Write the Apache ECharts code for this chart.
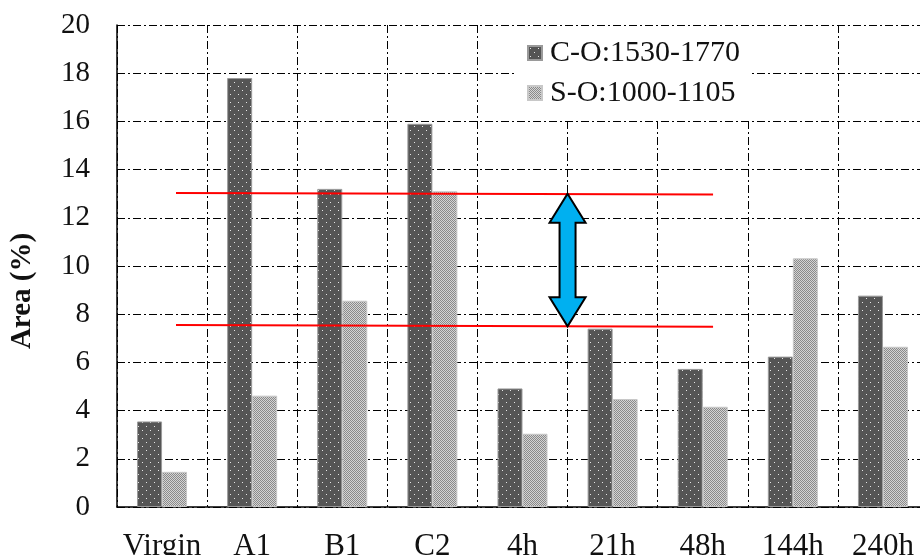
<!DOCTYPE html>
<html>
<head>
<meta charset="utf-8">
<script src="https://cdn.jsdelivr.net/npm/echarts@6/dist/echarts.min.js"></script>
<style>
  html, body { margin: 0; padding: 0; background: #fff; }
  #chart { width: 920px; height: 555px; }
</style>
</head>
<body>
<div id="chart"></div>
<script>
// values
const categories = ['Virgin', 'A1', 'B1', 'C2', '4h', '21h', '48h', '144h', '240h'];
const coValues = [3.55, 17.8, 13.2, 15.9, 4.92, 7.4, 5.73, 6.24, 8.77];
const soValues = [1.46, 4.62, 8.56, 13.1, 3.04, 4.48, 4.16, 10.32, 6.65];
const seriesNames = ['C-O:1530-1770', 'S-O:1000-1105'];

// red reference lines, [x (category index), y]
const upperLine = [[0.155, 13.03], [6.115, 12.97]];
const lowerLine = [[0.155, 7.55], [6.115, 7.48]];
// double arrow: [x, yTop, yBottom]
const arrowData = [[4.5, 13.0, 7.5]];

const fontFamily = "'Liberation Serif', 'Times New Roman', serif";
const dashDot = [8, 3, 2, 3];

function makePattern(size, base, dots) {
  const c = document.createElement('canvas');
  c.width = size;
  c.height = size;
  const ctx = c.getContext('2d');
  ctx.fillStyle = base;
  ctx.fillRect(0, 0, size, size);
  dots.forEach(d => {
    ctx.fillStyle = d[2];
    ctx.fillRect(d[0], d[1], 1, 1);
  });
  return { image: c, repeat: 'repeat' };
}

const darkFill = makePattern(8, '#555555', [[2, 2, '#e6e6e6'], [6, 6, '#e6e6e6']]);
const lightFill = makePattern(2, '#d4d4d4', [[0, 0, '#8a8a8a'], [1, 1, '#8a8a8a']]);

const chart = echarts.init(document.getElementById('chart'), null, { renderer: 'canvas' });

const arrowRender = (params, api) => {
  const top = api.coord([api.value(0), api.value(1)]);
  const bot = api.coord([api.value(0), api.value(2)]);
  const x = top[0];
  const hw = 18; // head half width
  const sw = 8; // shaft half width
  const hh = 29; // head height
  const pts = [
    [x, top[1]],
    [x + hw, top[1] + hh],
    [x + sw, top[1] + hh],
    [x + sw, bot[1] - hh],
    [x + hw, bot[1] - hh],
    [x, bot[1]],
    [x - hw, bot[1] - hh],
    [x - sw, bot[1] - hh],
    [x - sw, top[1] + hh],
    [x - hw, top[1] + hh],
  ];
  return {
    type: 'polygon',
    shape: { points: pts },
    style: { fill: '#00b0f0', stroke: '#000', lineWidth: 2 },
  };
};

const option = {
  animation: false,
  backgroundColor: '#fff',
  grid: { left: 117, top: 25, bottom: 48, right: -8, outerBoundsMode: 'none' },
  legend: {
    data: seriesNames,
    orient: 'vertical',
    left: 516,
    top: 26,
    padding: [12, 10, 12, 11],
    itemGap: 10,
    itemWidth: 14,
    itemHeight: 14,
    icon: 'rect',
    backgroundColor: '#fff',
    z: 5,
    textStyle: { fontFamily, fontSize: 30, color: '#111', padding: [0, 0, 0, 3] },
  },
  xAxis: [
    {
      type: 'category',
      data: categories,
      axisLine: { lineStyle: { color: '#000', width: 1.5 } },
      axisTick: { show: false },
      axisLabel: { fontFamily, fontSize: 31, color: '#111', margin: 24, interval: 0 },
      splitLine: { show: true, interval: 0, lineStyle: { color: '#000', type: dashDot, width: 1 } },
    },
    {
      type: 'value',
      show: false,
      min: -0.5,
      max: 8.5,
    },
  ],
  yAxis: {
    type: 'value',
    min: 0,
    max: 20,
    interval: 2,
    name: 'Area (%)',
    nameLocation: 'middle',
    nameGap: 80,
    nameTextStyle: { fontFamily, fontSize: 29, fontWeight: 'bold', color: '#111', padding: [0, 50, 0, 0] },
    axisLine: { show: true, onZero: false, lineStyle: { color: '#000', width: 1.5 } },
    axisTick: { show: false },
    axisLabel: { fontFamily, fontSize: 29, color: '#111', margin: 27 },
    splitLine: { show: true, lineStyle: { color: '#000', type: dashDot, width: 1 } },
  },
  series: [
    {
      name: seriesNames[0],
      type: 'bar',
      data: coValues,
      barWidth: 25,
      barGap: '0%',
      itemStyle: { color: darkFill, borderColor: '#9a9a9a', borderWidth: 1 },
    },
    {
      name: seriesNames[1],
      type: 'bar',
      data: soValues,
      barWidth: 25,
      barGap: '0%',
      itemStyle: { color: lightFill, borderColor: '#c8c8c8', borderWidth: 1 },
    },
    {
      name: 'upper',
      type: 'line',
      xAxisIndex: 1,
      data: upperLine,
      showSymbol: false,
      lineStyle: { color: '#ff0000', width: 2 },
      z: 3,
    },
    {
      name: 'lower',
      type: 'line',
      xAxisIndex: 1,
      data: lowerLine,
      showSymbol: false,
      lineStyle: { color: '#ff0000', width: 2 },
      z: 3,
    },
    {
      name: 'arrow',
      type: 'custom',
      xAxisIndex: 1,
      data: arrowData,
      renderItem: arrowRender,
      z: 4,
    },
  ],
};

chart.setOption(option);
</script>
</body>
</html>
